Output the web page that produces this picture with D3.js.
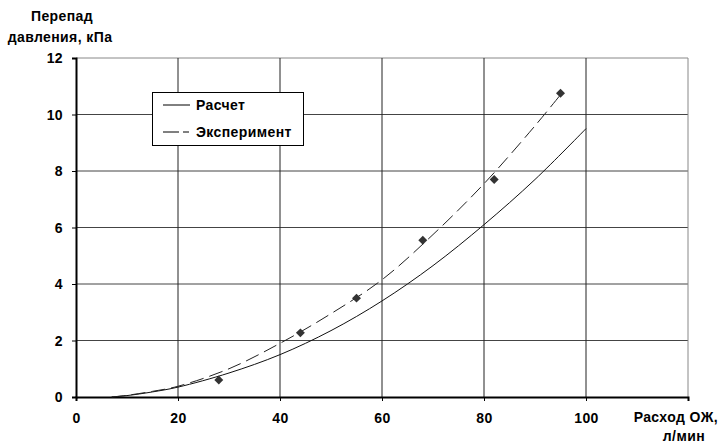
<!DOCTYPE html>
<html>
<head>
<meta charset="utf-8">
<script src="https://cdn.jsdelivr.net/npm/d3@7"></script>
<style>
body{margin:0;background:#fff}
text{font-family:"Liberation Sans",Arial,sans-serif;font-weight:bold;font-size:14px;letter-spacing:0.4px;fill:#000}
</style>
</head>
<body>
<svg width="720" height="445"></svg>
<script>
// values
var xTicks=[0,20,40,60,80,100,120]
var yTicks=[0,2,4,6,8,10,12]
var xTickLabels=["0","20","40","60","80","100",""]
var calcX=[7,10,15,20,30,40,50,60,70,80,90,100]
var calcY=[0,0.05,0.18,0.35,0.85,1.5,2.35,3.4,4.65,6.1,7.7,9.5]
var trendX=[7,10,15,20,30,40,50,60,70,80,90,95]
var trendY=[0,0.06,0.2,0.38,1.0,1.9,2.95,4.15,5.75,7.55,9.6,10.7]
var expX=[28,44,55,68,82,95]
var expY=[0.6,2.27,3.5,5.55,7.7,10.75]
var legendNames=["Расчет","Эксперимент"]

var svg=d3.select("svg")
var margins={top:58,bottom:48,left:76,right:32}
var w=720-margins.left-margins.right
var h=445-margins.top-margins.bottom

var xScale=d3.scaleLinear().domain([0,120]).range([margins.left,margins.left+w])
var yScale=d3.scaleLinear().domain([0,12]).range([margins.top+h,margins.top])

// grid
svg.selectAll(".hg").data(yTicks.slice(1)).enter().append("line")
   .attr("x1",xScale(0)).attr("x2",xScale(120))
   .attr("y1",function(d){return yScale(d)}).attr("y2",function(d){return yScale(d)})
   .attr("stroke",function(d){return d==12?"#888":"#444"}).attr("stroke-width",1)
svg.selectAll(".vg").data(xTicks.slice(1)).enter().append("line")
   .attr("y1",yScale(0)).attr("y2",yScale(12))
   .attr("x1",function(d){return xScale(d)}).attr("x2",function(d){return xScale(d)})
   .attr("stroke",function(d){return d==120?"#888":"#222"}).attr("stroke-width",1)

// axes
var yAxis=d3.axisLeft(yScale).tickValues(yTicks).tickSize(4).tickFormat(function(d){return d})
var gy=svg.append("g").attr("transform","translate("+xScale(0)+",0)").call(yAxis)
gy.select(".domain").attr("stroke","#000").attr("stroke-width",2)
gy.selectAll("line").attr("stroke","#000")
gy.selectAll("text").attr("x",-13).attr("dy","0.35em").style("font-size","14px")

var xAxis=d3.axisBottom(xScale).tickValues(xTicks).tickSize(4).tickFormat(function(d,i){return xTickLabels[i]})
var gx=svg.append("g").attr("transform","translate(0,"+yScale(0)+")").call(xAxis)
gx.select(".domain").attr("stroke","#000").attr("stroke-width",2)
gx.selectAll("line").attr("stroke","#000")
gx.selectAll("text").attr("y",16).attr("dy","0.71em").style("font-size","14px")

// curves
var line=d3.line().curve(d3.curveCatmullRom)
svg.append("path")
   .attr("d",line(calcX.map(function(d,i){return [xScale(d),yScale(calcY[i])]})))
   .attr("fill","none").attr("stroke","#111").attr("stroke-width",1)
svg.append("path")
   .attr("d",line(trendX.map(function(d,i){return [xScale(d),yScale(trendY[i])]})))
   .attr("fill","none").attr("stroke","#222").attr("stroke-width",1).attr("stroke-dasharray","14,6")

// points
svg.selectAll(".pt").data(expX).enter().append("path")
   .attr("d",d3.symbol().type(d3.symbolSquare).size(40))
   .attr("transform",function(d,i){return "translate("+xScale(d)+","+yScale(expY[i])+") rotate(45)"})
   .attr("fill","#333")

// legend
var lg=svg.append("g")
lg.append("rect").attr("x",152.5).attr("y",92.5).attr("width",151).attr("height",53)
  .attr("fill","#fff").attr("stroke","#000").attr("stroke-width",1)
legendNames.forEach(function(n,i){
  var yy=105+i*27
  lg.append("line").attr("x1",163).attr("x2",190).attr("y1",yy).attr("y2",yy)
    .attr("stroke","#000").attr("stroke-dasharray",i==1?"16,4,6":null)
  lg.append("text").attr("x",196).attr("y",yy).attr("dy","0.35em").text(n)
})

// axis titles
svg.append("text").attr("x",62).attr("y",21).attr("text-anchor","middle").text("Перепад")
svg.append("text").attr("x",60).attr("y",42).attr("text-anchor","middle").text("давления, кПа")
svg.append("text").attr("x",718).attr("y",422).attr("text-anchor","end").text("Расход ОЖ,")
svg.append("text").attr("x",705).attr("y",441).attr("text-anchor","end").text("л/мин")
</script>
</body>
</html>
